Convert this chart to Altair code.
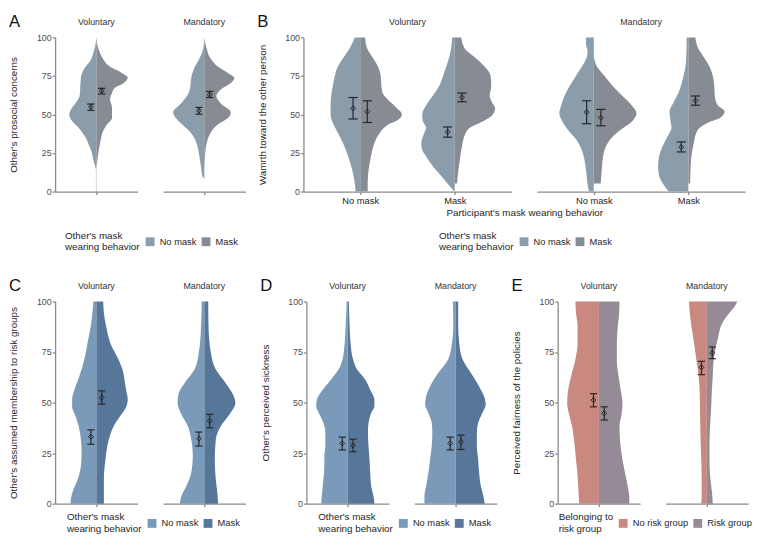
import altair as alt
import pandas as pd

FONT = "Liberation Sans"
DARK = "#262626"
AXIS_GREY = "#8a8a8a"

FACETS = ["Voluntary", "Mandatory"]
B_CATS = ["No mask", "Mask"]
GROUPS_MASK = ["No mask", "Mask"]
GROUPS_RISK = ["No risk group", "Risk group"]
COLORS_AB = ["#8b9daa", "#878b93"]
COLORS_CD = ["#7a9aba", "#57779a"]
COLORS_E = ["#c98880", "#958b97"]

# ---- violin halves: (value, density half-width) ----
# Panel A: other's prosocial concerns
A_VOL_NOMASK = [(100, 0), (95, 1), (90, 3), (85, 6), (80, 12), (76, 15), (72, 16), (66, 16.5), (62, 17),
                (58, 20.5), (54, 25), (50, 27.5), (46, 25), (42, 19), (38, 14), (34, 10), (30, 7.5),
                (26, 5), (22, 3.5), (18, 2), (16, 1), (14, 0.4), (0, 0.4)]
A_VOL_MASK = [(100, 0), (93, 2), (87, 6), (81, 14), (77, 26), (74, 32), (70.5, 28), (67.4, 19), (64, 16),
              (60, 14), (54, 16), (47.7, 16), (43.6, 11), (39.4, 7), (33, 4.3), (25, 2), (16.6, 0.3)]
A_MAN_NOMASK = [(100, 0), (93, 1), (85, 6), (79, 11), (72.6, 13.7), (67.4, 14.3), (62, 17.7), (57, 24),
                (51.5, 31.7), (47.7, 29), (43.6, 22.7), (37.3, 12.7), (31, 7.7), (22.8, 5), (14.5, 3),
                (10, 2), (8.5, 0)]
A_MAN_MASK = [(100, 0), (93, 2.3), (87, 5.7), (81, 14), (77, 24), (73.7, 30.7), (70.5, 27), (66.4, 17),
              (62, 12.3), (57, 17), (51.5, 27), (47.7, 24), (43.6, 14), (37.3, 5.7), (31, 2.3), (22.8, 0.7),
              (14.5, 0)]

# Panel B: warmth (participant's behaviour x other's behaviour)
B_VOL_NOMASK_L = [(100, 5.7), (93, 10.7), (87, 17), (81, 23), (75, 26), (68.5, 28), (62, 29.7), (56, 30.3),
                  (50, 30.3), (43.6, 27.3), (37.3, 22.3), (31, 17.3), (22.8, 12.3), (14.5, 8.3), (6.2, 5.7),
                  (0, 4.7)]
B_VOL_NOMASK_R = [(100, 5), (93, 7), (87, 12.7), (81, 18.3), (75, 21), (68.5, 21.7), (64.3, 22.7), (60, 27.7),
                  (55, 36), (50, 42.7), (46.7, 39.3), (43.6, 29.3), (37.3, 19.3), (31, 14.3), (22.8, 11),
                  (14.5, 8.7), (6.2, 7.7), (0, 7.7)]
B_VOL_MASK_L = [(100, 2.7), (93, 3.7), (85, 6.7), (77, 11), (68.5, 16), (62, 22.7), (56, 29.3), (50, 33.3),
                (45.6, 32.7), (41.5, 29.3), (37.3, 31.7), (31, 34.3), (27, 33.3), (22.8, 29.3), (16.6, 22.7),
                (10.4, 14.3), (4.1, 6), (0, 0.3)]
B_VOL_MASK_R = [(100, 6.7), (93, 10), (87, 20.7), (81, 30.7), (75, 36.7), (68.5, 37.3), (62, 35.7), (58, 38),
                (54, 41.3), (50, 39), (45.6, 29), (41.5, 15.7), (37.3, 10.7), (29, 7.3), (18.7, 4.7),
                (10.4, 3), (5.2, 2.3)]
B_MAN_NOMASK_L = [(100, 8), (95.4, 8), (91.3, 6.3), (87, 7.3), (81, 12.3), (75, 18.3), (68.5, 24.7), (62, 30),
                  (56, 33.3), (50.8, 35.3), (45.6, 32.3), (39.4, 25.7), (33.2, 17.3), (27, 12.3), (18.7, 9),
                  (10.4, 7.3), (4.1, 6.3), (0, 4.7)]
B_MAN_NOMASK_R = [(88, 0), (87, 0.3), (81, 3.3), (75, 11), (68.5, 19.3), (62, 29.3), (56, 38.7), (50.8, 43.7),
                  (45.6, 39.3), (39.4, 26), (33.2, 16), (27, 11), (18.7, 8.7), (10.4, 7.7), (5.2, 7)]
B_MAN_MASK_L = [(100, 1.7), (85, 2.3), (75, 5), (64.3, 10), (58, 15), (51.9, 19.3), (45.6, 18.3), (41.5, 17.3),
                (35.3, 21.7), (29, 26.7), (22.8, 30), (16.6, 31), (10.4, 30), (4.1, 25), (0, 20)]
B_MAN_MASK_R = [(100, 7), (93, 10), (87, 16), (81, 21.7), (75, 25), (68.5, 26.5), (62, 27), (56, 30), (52, 37),
                (48, 33), (44, 18), (39.4, 9), (31, 5.4), (18.7, 2.5), (5.2, 1.8)]

# Panel C: assumed membership to risk groups
C_VOL_NOMASK = [(100, 3), (94.2, 4), (87.7, 5.7), (79.4, 9), (71.2, 12.3), (63, 17.3), (56.4, 22.3),
                (51.5, 24.7), (48.2, 24.7), (43.3, 21.3), (38.3, 18), (31.7, 15.7), (25.2, 15), (18.6, 15.7),
                (12, 19), (7.1, 23.3), (3, 25.7), (0, 26.3)]
C_VOL_MASK = [(100, 7), (94.2, 7.7), (87.7, 10), (79.4, 14.3), (71.2, 22.7), (66.3, 26.7), (61.3, 28.7),
              (56.4, 30.3), (51.5, 32), (47.4, 30), (43.3, 24.3), (38.3, 17.7), (31.7, 12.7), (21.9, 9.3),
              (12, 7.7), (5.4, 7.7), (0, 7.7)]
C_MAN_NOMASK = [(100, 2.7), (87.7, 3.3), (74.5, 5.7), (66.3, 10), (59.7, 20), (54.8, 26), (49.8, 27.3),
                (44.9, 24), (38.3, 16.7), (31.7, 13.3), (23.5, 11.7), (15.3, 13.3), (8.7, 18.3), (3.8, 23.3),
                (0, 25)]
C_MAN_MASK = [(100, 4), (87.7, 4.3), (74.5, 6.7), (66.3, 11.7), (59.7, 21.7), (54.8, 28.3), (49.8, 31.7),
              (44.9, 26.7), (38.3, 16.7), (31.7, 11.7), (21.9, 10.7), (12, 11.7), (5.4, 13.3), (0, 14)]

# Panel D: perceived sickness
D_VOL_NOMASK = [(100, 1), (87.7, 2), (79.4, 3), (71.2, 5.3), (66.3, 9.3), (61.3, 17), (56.4, 25.3), (51.5, 31.3),
                (48.2, 32), (44.9, 29.3), (40, 24.7), (35, 22.7), (28.5, 22.7), (23.5, 23.7), (18.6, 23.7),
                (12, 24.7), (5.4, 26), (0, 27)]
D_VOL_MASK = [(100, 1.3), (87.7, 2), (79.4, 3), (71.2, 5.7), (66.3, 9.7), (61.3, 18), (56.4, 23), (51.5, 27.3),
              (48.2, 27.3), (44.9, 24), (40, 21.3), (35, 20.7), (28.5, 21.3), (21.9, 22.3), (15.3, 23),
              (8.7, 24), (3.8, 26.3), (0, 27.3)]
D_MAN_NOMASK = [(100, 2.7), (87.7, 2.3), (79.4, 3.7), (71.2, 7.7), (64.6, 17.7), (58, 26), (53.1, 30), (49, 31),
                (44.9, 27.7), (40, 24.3), (35, 23.7), (28.5, 24.3), (21.9, 26), (15.3, 27.7), (8.7, 30),
                (3.8, 31.7), (0, 31.7)]
D_MAN_MASK = [(100, 2.7), (87.7, 2.7), (79.4, 3.7), (71.2, 7.3), (64.6, 15.7), (58, 24), (53.1, 29), (49, 30.7),
              (44.9, 27.3), (40, 23), (35, 21.7), (28.5, 21.7), (21.9, 23), (15.3, 24), (8.7, 25.7),
              (3.8, 28.3), (0, 29.7)]

# Panel E: perceived fairness of the policies
E_VOL_NORISK = [(100, 24), (94.2, 23.3), (87.7, 21.7), (79.4, 21.7), (71.2, 24), (63, 28.3), (54.8, 31.7),
                (49.8, 32.3), (44.9, 30.7), (38.3, 27.3), (30.1, 25), (21.9, 23.3), (13.7, 21.7), (5.4, 20.7),
                (0, 20)]
E_VOL_RISK = [(100, 21), (94.2, 20.7), (87.7, 19.3), (79.4, 18.3), (71.2, 18.3), (63, 20), (54.8, 22.7),
              (49.8, 24), (44.9, 23.3), (38.3, 21), (30.1, 21.7), (21.9, 24), (13.7, 27.3), (7.1, 30), (3, 31),
              (0, 31)]
E_MAN_NORISK = [(100, 18.3), (94.2, 17.3), (87.7, 15.7), (79.4, 13), (71.2, 10.7), (63, 8.3), (54.8, 7.3),
                (46.5, 7), (38.3, 6.7), (30.1, 6.3), (21.9, 5.7), (13.7, 5.3), (5.4, 5.3), (0, 5.7)]
E_MAN_RISK = [(100, 31), (97.5, 28.3), (94.2, 22.7), (90.9, 17.7), (87.7, 14.3), (82.7, 11.7), (77.8, 9.3),
              (71.2, 7), (63, 6), (54.8, 5), (46.5, 4.3), (38.3, 3.3), (30.1, 2.7), (21.9, 2.7), (13.7, 3.3),
              (5.4, 5.3), (0, 6)]

# ---- means with 95% CI: (facet, category, group, mean, upper, lower) ----
A_MEANS = [("Voluntary", None, "No mask", 55.0, 56.8, 52.7), ("Voluntary", None, "Mask", 65.4, 67.0, 63.3),
           ("Mandatory", None, "No mask", 52.5, 54.6, 50.2), ("Mandatory", None, "Mask", 62.9, 65.0, 61.0)]
B_MEANS = [("Voluntary", "No mask", "No mask", 54.0, 61.0, 47.1), ("Voluntary", "No mask", "Mask", 51.9, 58.9, 44.8),
           ("Voluntary", "Mask", "No mask", 38.8, 41.9, 35.3), ("Voluntary", "Mask", "Mask", 61.2, 63.9, 58.3),
           ("Mandatory", "No mask", "No mask", 51.5, 58.9, 44.0), ("Mandatory", "No mask", "Mask", 47.9, 53.3, 42.7),
           ("Mandatory", "Mask", "No mask", 28.8, 32.2, 25.7), ("Mandatory", "Mask", "Mask", 59.1, 62.0, 56.0)]
C_MEANS = [("Voluntary", None, "No mask", 33.1, 36.5, 29.4), ("Voluntary", None, "Mask", 52.5, 55.8, 49.2),
           ("Mandatory", None, "No mask", 32.1, 35.4, 28.5), ("Mandatory", None, "Mask", 41.0, 44.2, 37.5)]
D_MEANS = [("Voluntary", None, "No mask", 29.8, 32.9, 26.6), ("Voluntary", None, "Mask", 28.8, 31.9, 25.7),
           ("Mandatory", None, "No mask", 29.8, 32.9, 26.6), ("Mandatory", None, "Mask", 30.6, 33.9, 26.8)]
E_MEANS = [("Voluntary", None, "No risk group", 51.2, 54.4, 47.9), ("Voluntary", None, "Risk group", 44.7, 47.9, 41.4),
           ("Mandatory", None, "No risk group", 67.4, 70.4, 63.8), ("Mandatory", None, "Risk group", 74.5, 77.5, 71.7)]

Y_TICKS = [0, 25, 50, 75, 100]


def cat_pos(cat):
    return 0 if cat is None else B_CATS.index(cat) + 1


def facet_chart(violins, means, facet, groups, colors, xdom, k, dodge, cap, width, height,
                yaxis, xaxis, legend, title_offset):
    rows = []
    for cat, group, pts in violins:
        c = cat_pos(cat)
        side = -1 if group == groups[0] else 1
        for v, w in sorted(pts):
            rows.append({"v": v, "lo": c - w * k if side < 0 else c, "hi": c if side < 0 else c + w * k,
                         "group": group, "key": f"{c}-{group}"})
    vdf = pd.DataFrame(rows)
    mrows = []
    for f, cat, group, m, up, low in means:
        if f != facet:
            continue
        c = cat_pos(cat)
        side = -1 if group == groups[0] else 1
        xm = c + side * dodge * k
        mrows.append({"xm": xm, "xa": xm - cap * k, "xb": xm + cap * k, "mean": m, "up": up, "low": low})
    mdf = pd.DataFrame(mrows)

    xs = alt.Scale(domain=xdom, nice=False, zero=False)
    ys = alt.Scale(domain=[0, 100], nice=False, zero=False)

    def X(f):
        return alt.X(f, type="quantitative", scale=xs, axis=xaxis)

    def Y(f):
        return alt.Y(f, type="quantitative", scale=ys, axis=yaxis)

    area = alt.Chart(vdf).mark_area(orient="horizontal", interpolate="monotone", opacity=1).encode(
        x=X("lo"), x2="hi", y=Y("v"),
        color=alt.Color("group:N", scale=alt.Scale(domain=groups, range=colors), legend=legend),
        detail="key:N",
    )
    vbar = alt.Chart(mdf).mark_rule(color=DARK, strokeWidth=1.2).encode(x=X("xm"), y=Y("low"), y2="up")
    cap_u = alt.Chart(mdf).mark_rule(color=DARK, strokeWidth=1.2).encode(x=X("xa"), x2="xb", y=Y("up"))
    cap_l = alt.Chart(mdf).mark_rule(color=DARK, strokeWidth=1.2).encode(x=X("xa"), x2="xb", y=Y("low"))
    pts = alt.Chart(mdf).mark_point(shape="diamond", size=26, filled=False, color=DARK, strokeWidth=1,
                                    opacity=1).encode(x=X("xm"), y=Y("mean"))
    return alt.layer(area, vbar, cap_u, cap_l, pts).properties(
        width=width, height=height, title=alt.TitleParams(facet, offset=title_offset))


def make_legend(title, lx, ly):
    return alt.Legend(orient="none", legendX=lx, legendY=ly, direction="horizontal", title=title,
                      titleOrient="left", titleFontSize=10, titleFontWeight="normal", titleColor=DARK,
                      titleFont=FONT, titleLineHeight=12, titlePadding=5, labelFont=FONT, labelFontSize=9.5,
                      labelColor=DARK, labelOffset=5, symbolType="square", symbolSize=81, symbolStrokeWidth=0,
                      columnPadding=5, padding=0)


def panel(letter, vol, man):
    return alt.hconcat(vol, man, spacing=26, bounds="flush").properties(
        title=alt.TitleParams(letter, anchor="start", fontSize=17, fontWeight="normal", color="#111111",
                              offset=0, dy=13))


VOL_OFF = 7
MAN_OFF = 11


def simple_panel(letter, vol_halves, man_halves, means, groups, colors, ytitle, width, height, legend_title,
                 lx, ly):
    half = width / 2
    xaxis = alt.Axis(values=[0], labels=False, title=None)
    yaxis = alt.Axis(values=Y_TICKS, title=ytitle, titlePadding=18)
    leg = make_legend(legend_title, lx, ly)
    vol = facet_chart([(None, groups[0], vol_halves[0]), (None, groups[1], vol_halves[1])], means, "Voluntary",
                      groups, colors, [-half, half], 1, 5.5, 3.7, width, height, yaxis, xaxis, leg, VOL_OFF)
    man = facet_chart([(None, groups[0], man_halves[0]), (None, groups[1], man_halves[1])], means, "Mandatory",
                      groups, colors, [-half, half], 1, 5.5, 3.7, width, height, None, xaxis, leg, MAN_OFF)
    return panel(letter, vol, man)


TOP_H = 157
BOT_H = 206
TOP_LEG_Y = 203
BOT_LEG_Y = 221
MASK_TITLE = ["Other's mask", "wearing behavior"]

pA = simple_panel("A", (A_VOL_NOMASK, A_VOL_MASK), (A_MAN_NOMASK, A_MAN_MASK), A_MEANS, GROUPS_MASK, COLORS_AB,
                  "Other's prosocial concerns", 84, TOP_H, MASK_TITLE, 10, TOP_LEG_Y)

# Panel B
B_K = 1 / 96.8
B_W = 212
b_label = "datum.value == 1 ? 'No mask' : 'Mask'"
bx_vol = alt.Axis(values=[1, 2], labelExpr=b_label, title="Participant's mask wearing behavior",
                  titleX=(B_W * 2 + 26) / 2, titleAlign="center", titlePadding=3, labelColor=DARK,
                  labelFontSize=9.5)
bx_man = alt.Axis(values=[1, 2], labelExpr=b_label, title=None, labelColor=DARK, labelFontSize=9.5)
by = alt.Axis(values=Y_TICKS, title="Wamrth toward the other person", titlePadding=18)
b_leg = make_legend(MASK_TITLE, 138, TOP_LEG_Y)
b_vol = facet_chart([("No mask", "No mask", B_VOL_NOMASK_L), ("No mask", "Mask", B_VOL_NOMASK_R),
                     ("Mask", "No mask", B_VOL_MASK_L), ("Mask", "Mask", B_VOL_MASK_R)], B_MEANS, "Voluntary",
                    GROUPS_MASK, COLORS_AB, [0.4, 2.6], B_K, 7.3, 4.7, B_W, TOP_H, by, bx_vol, b_leg, VOL_OFF)
b_man = facet_chart([("No mask", "No mask", B_MAN_NOMASK_L), ("No mask", "Mask", B_MAN_NOMASK_R),
                     ("Mask", "No mask", B_MAN_MASK_L), ("Mask", "Mask", B_MAN_MASK_R)], B_MEANS, "Mandatory",
                    GROUPS_MASK, COLORS_AB, [0.4, 2.6], B_K, 7.3, 4.7, B_W, TOP_H, None, bx_man, b_leg, MAN_OFF)
pB = panel("B", b_vol, b_man)

pC = simple_panel("C", (C_VOL_NOMASK, C_VOL_MASK), (C_MAN_NOMASK, C_MAN_MASK), C_MEANS, GROUPS_MASK, COLORS_CD,
                  "Other's assumed membership to risk groups", 84, BOT_H, MASK_TITLE, 12, BOT_LEG_Y)
pD = simple_panel("D", (D_VOL_NOMASK, D_VOL_MASK), (D_MAN_NOMASK, D_MAN_MASK), D_MEANS, GROUPS_MASK, COLORS_CD,
                  "Other's perceived sickness", 84, BOT_H, MASK_TITLE, 12, BOT_LEG_Y)
pE = simple_panel("E", (E_VOL_NORISK, E_VOL_RISK), (E_MAN_NORISK, E_MAN_RISK), E_MEANS, GROUPS_RISK, COLORS_E,
                  "Perceived fairness of the policies", 84, BOT_H, ["Belonging to", "risk group"], 1, BOT_LEG_Y)

chart = alt.vconcat(
    alt.hconcat(pA, pB, spacing=11).resolve_scale(color="independent"),
    alt.hconcat(pC, pD, pE, spacing=14).resolve_scale(color="independent"),
    spacing=25,
).resolve_scale(color="independent").properties(
    padding={"left": 0, "top": 0, "right": 0, "bottom": 0}
).configure_view(stroke=None).configure_axis(
    grid=False, domainColor=AXIS_GREY, domainWidth=1.3, tickColor=AXIS_GREY, tickWidth=1.3, tickSize=3,
    labelFont=FONT, labelFontSize=9, labelColor="#4d4d4d", labelPadding=1,
    titleFont=FONT, titleFontSize=10, titleFontWeight="normal", titleColor=DARK,
).configure_title(font=FONT, fontSize=9, fontWeight="normal", color="#333333", offset=11)

chart.save("out.html", embed_options={"renderer": "svg", "actions": False})
